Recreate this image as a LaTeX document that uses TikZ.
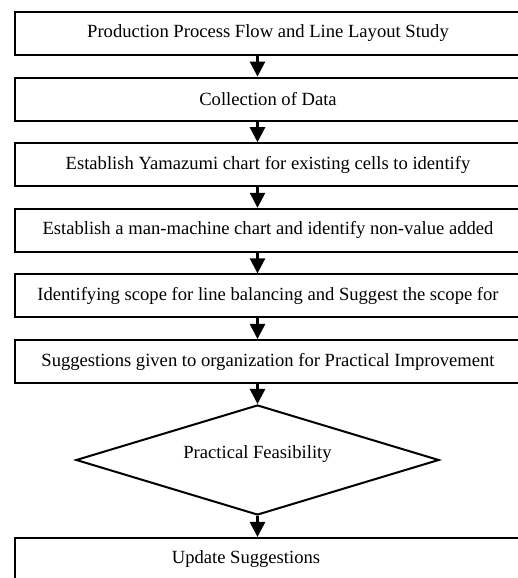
\documentclass[tikz,border=0pt]{standalone}
\usepackage{fontspec}
\setmainfont{Liberation Serif}
\usetikzlibrary{shapes.geometric,arrows.meta}

\tikzset{
  stepbox/.style={draw, line width=1pt, minimum width=253pt, minimum height=21.5pt,
    inner sep=0pt, font=\fontsize{9.3}{11}\selectfont},
  checkbox/.style={diamond, aspect=3.3, draw, line width=1pt, minimum width=181.5pt,
    minimum height=55pt, inner sep=0pt, text depth=8pt, font=\fontsize{9.3}{11}\selectfont},
  flow/.style={-{Triangle[length=7.5pt,width=7.5pt]}, line width=1.3pt},
}

\begin{document}
\begin{tikzpicture}[x=0.5pt,y=0.5pt]
\def\W{518}
\def\H{578}
\def\bx{268}
\def\by{544.5}
\def\dy{65.6}
  \useasboundingbox (0,0) rectangle (\W,\H);
  \clip (0,0) rectangle (\W,\H);

  \foreach \t [count=\i] in {Production Process Flow and Line Layout Study,
      Collection of Data,
      Establish Yamazumi chart for existing cells to identify,
      Establish a man-machine chart and identify non-value added,
      Identifying scope for line balancing and Suggest the scope for,
      Suggestions given to organization for Practical Improvement} {
    \node[stepbox] (b\i) at (\bx,{\by-(\i-1)*\dy}) {\t};
  }
  \node[checkbox] (fz) at (257.5,118) {Practical Feasibility};
  \node[stepbox] (b7) at (\bx,18.5) {Update Suggestions\hspace*{22pt}};

  \foreach \i in {1,...,5} {
    \pgfmathtruncatemacro\j{\i+1}
    \draw[flow] (b\i.south -| fz) -- (b\j.north -| fz);
  }
  \draw[flow] (b6.south -| fz) -- (fz.north);
  \draw[flow] (fz.south) -- (b7.north -| fz);
\end{tikzpicture}
\end{document}
